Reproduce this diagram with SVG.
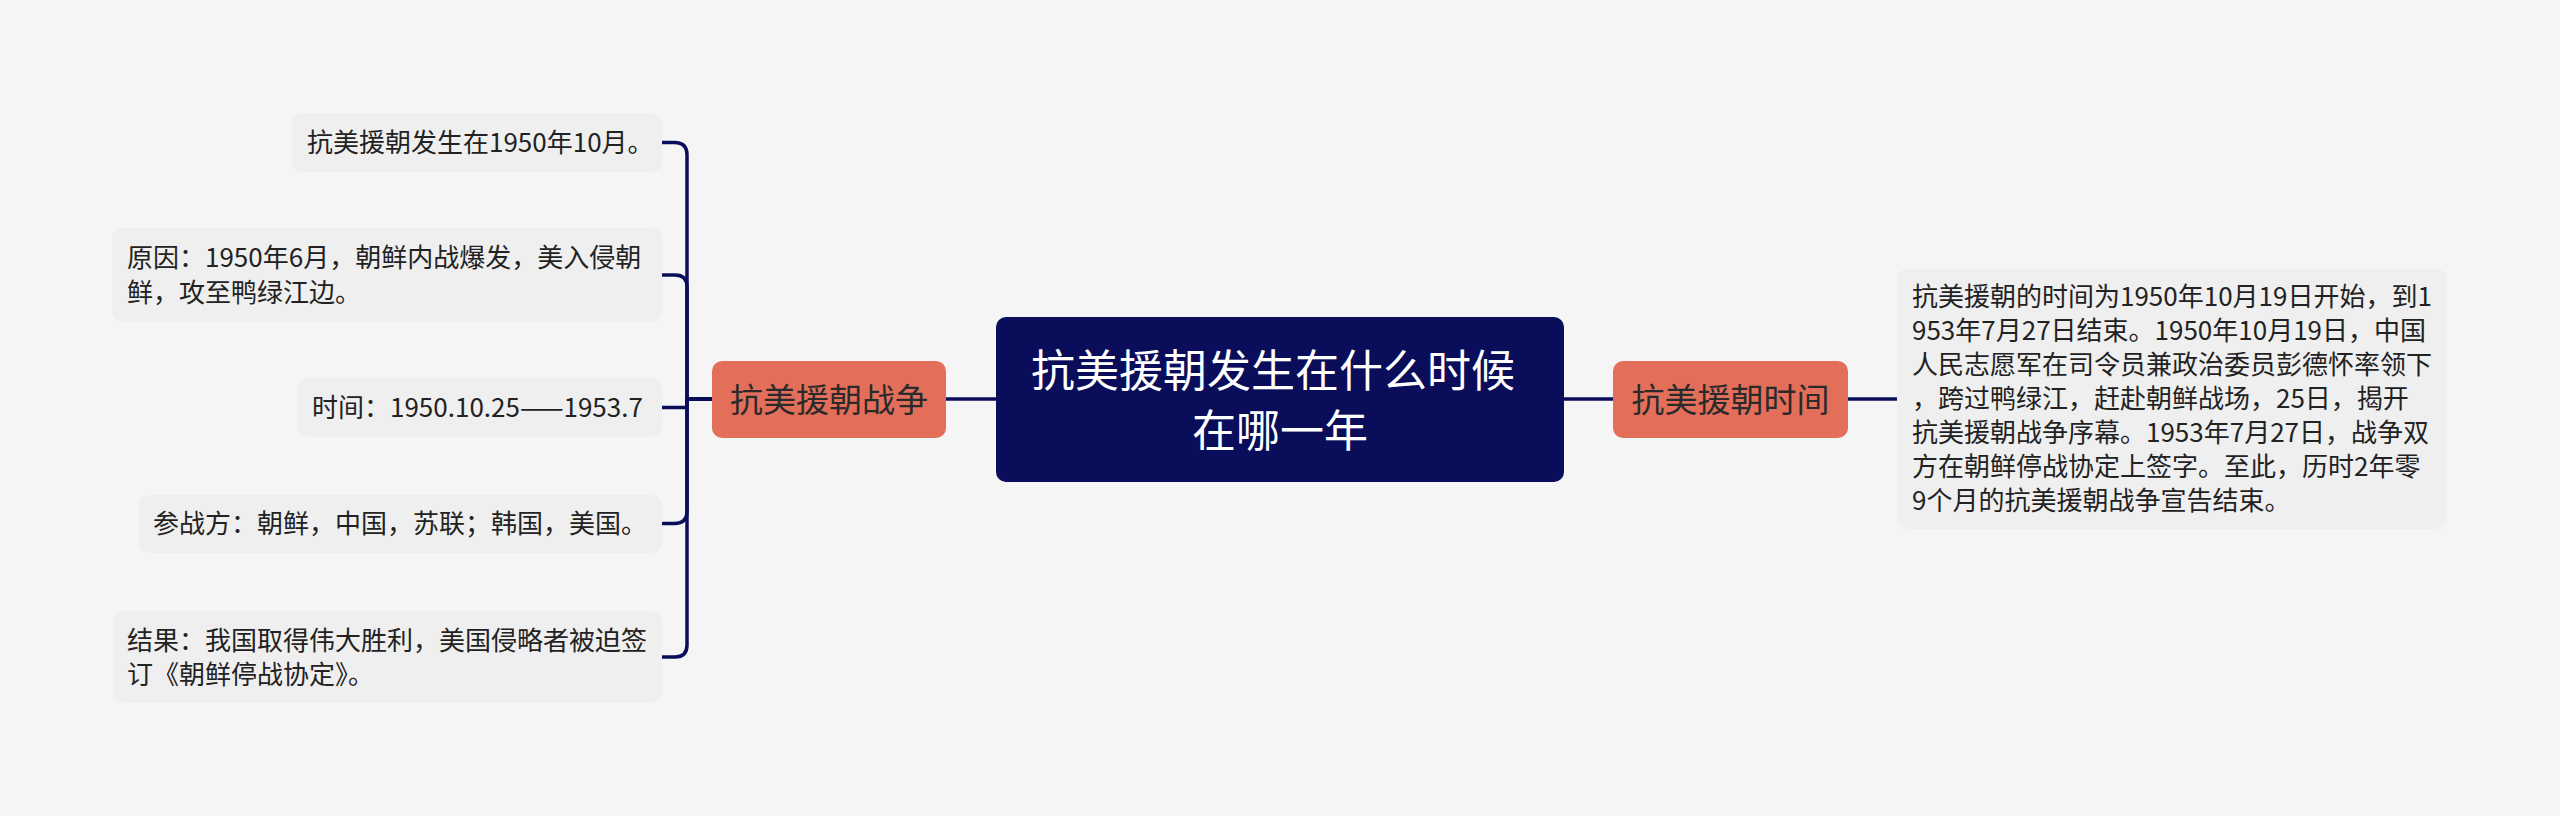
<svg xmlns="http://www.w3.org/2000/svg" width="2560" height="816" viewBox="0 0 2560 816">
<style>
.bg{fill:#f5f5f5}
.leaf rect{fill:#efefef}
.leaf text{font-family:"Noto Sans CJK SC","Noto Sans",sans-serif;font-size:26px;fill:#222}
.branch rect{fill:#e36f5a}
.branch text{font-family:"Noto Sans CJK SC","Noto Sans",sans-serif;font-size:33px;fill:#2a2a2a;text-anchor:middle}
.root rect{fill:#0a0e5a}
.root text{font-family:"Noto Sans CJK SC","Noto Sans",sans-serif;font-size:44px;fill:#ffffff;text-anchor:middle}
.conn path{fill:none;stroke:#0a0e5a;stroke-width:3.5}
</style>
<rect class="bg" x="0" y="0" width="2560" height="816"/>
<g class="conn" id="connectors">
<path d="M996,399 H946"/>
<path d="M1564,399 H1613"/>
<path d="M1848,399 H1897"/>
<path d="M712,399 H687 V155 Q687,142.5 674.5,142.5 H662"/>
<path d="M712,399 H687 V287 Q687,275 675,275 H662"/>
<path d="M712,399 H687 V407.5 H662"/>
<path d="M712,399 H687 V511 Q687,523.5 674.5,523.5 H662"/>
<path d="M712,399 H687 V645 Q687,657 675,657 H662"/>
</g>
<g class="root" id="root">
<rect x="996" y="317" width="568" height="165" rx="10"/>
<text x="1273" y="387">抗美援朝发生在什么时候</text>
<text x="1280" y="447">在哪一年</text>
</g>
<g class="branch" id="branch-left">
<rect x="712" y="361" width="234" height="77" rx="10"/>
<text x="829" y="412">抗美援朝战争</text>
</g>
<g class="branch" id="branch-right">
<rect x="1613" y="361" width="235" height="77" rx="10"/>
<text x="1730.5" y="412">抗美援朝时间</text>
</g>
<g class="leaf" id="leaf-1">
<rect x="292" y="113" width="370" height="59" rx="10"/>
<text x="307" y="152">抗美援朝发生在1950年10月。</text>
</g>
<g class="leaf" id="leaf-2">
<rect x="112" y="228" width="550" height="94" rx="10"/>
<text x="127" y="267">原因：1950年6月，朝鲜内战爆发，美入侵朝</text>
<text x="127" y="302">鲜，攻至鸭绿江边。</text>
</g>
<g class="leaf" id="leaf-3">
<rect x="297" y="378" width="365" height="59" rx="10"/>
<text x="312" y="417">时间：1950.10.25——1953.7</text>
</g>
<g class="leaf" id="leaf-4">
<rect x="139" y="495" width="523" height="58" rx="10"/>
<text x="153" y="533">参战方：朝鲜，中国，苏联；韩国，美国。</text>
</g>
<g class="leaf" id="leaf-5">
<rect x="113" y="611" width="549" height="92" rx="10"/>
<text x="127" y="650">结果：我国取得伟大胜利，美国侵略者被迫签</text>
<text x="127" y="684">订《朝鲜停战协定》。</text>
</g>
<g class="leaf" id="leaf-right">
<rect x="1897" y="269" width="550" height="260" rx="10"/>
<text x="1912" y="306">抗美援朝的时间为1950年10月19日开始，到1</text>
<text x="1912" y="340">953年7月27日结束。1950年10月19日，中国</text>
<text x="1912" y="374">人民志愿军在司令员兼政治委员彭德怀率领下</text>
<text x="1912" y="408">，跨过鸭绿江，赶赴朝鲜战场，25日，揭开</text>
<text x="1912" y="442">抗美援朝战争序幕。1953年7月27日，战争双</text>
<text x="1912" y="476">方在朝鲜停战协定上签字。至此，历时2年零</text>
<text x="1912" y="510">9个月的抗美援朝战争宣告结束。</text>
</g>
</svg>
